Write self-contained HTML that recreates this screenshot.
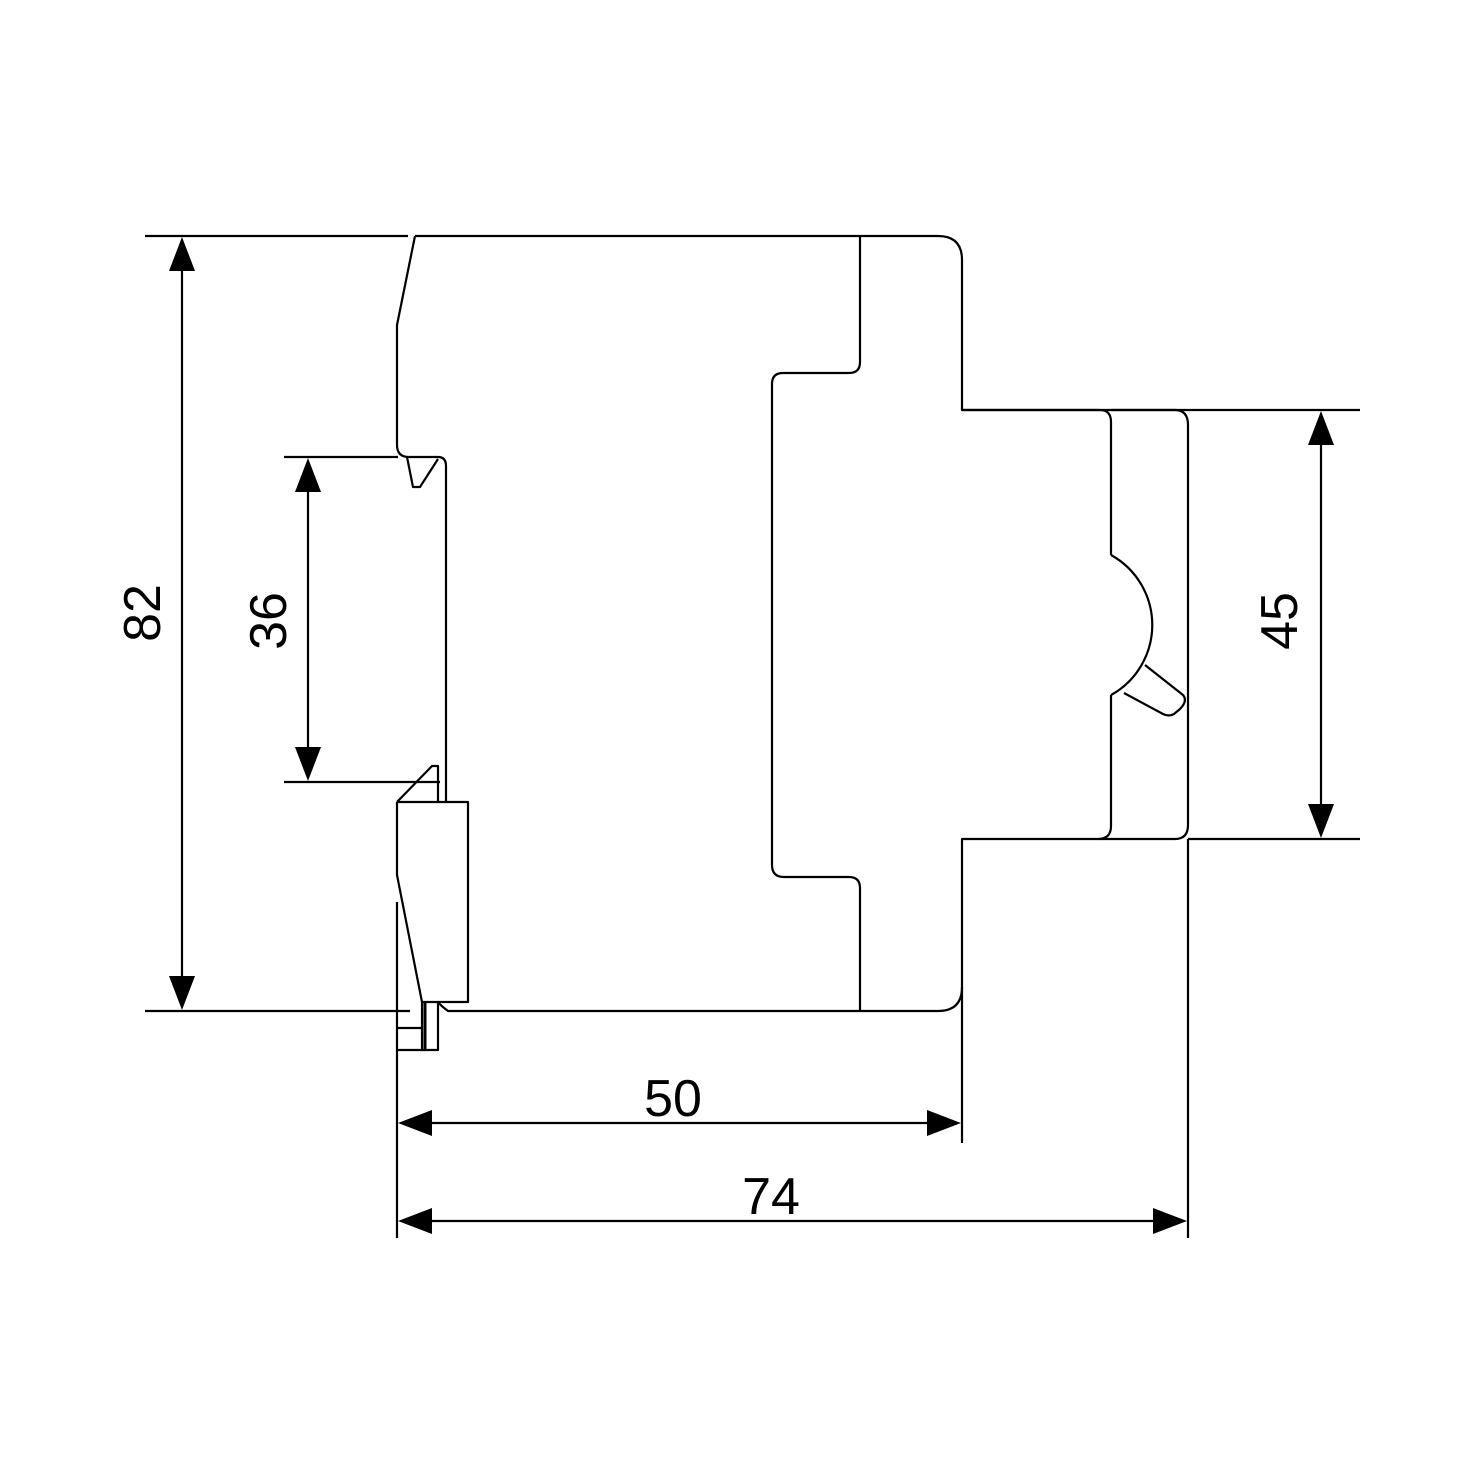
<!DOCTYPE html>
<html><head><style>html,body{margin:0;padding:0;background:#fff}</style></head><body>
<svg width="1476" height="1476" viewBox="0 0 1476 1476" xmlns="http://www.w3.org/2000/svg">
<g fill="none" stroke="#000" stroke-width="2.2" stroke-linejoin="round">
<line x1="145" y1="236" x2="408" y2="236"/>
<line x1="145" y1="1011" x2="410" y2="1011"/>
<line x1="284" y1="457" x2="398" y2="457"/>
<line x1="284" y1="782" x2="440" y2="782"/>
<line x1="962" y1="410" x2="1360" y2="410"/>
<line x1="1188" y1="839" x2="1360" y2="839"/>
<line x1="397" y1="902" x2="397" y2="1238"/>
<line x1="962" y1="987" x2="962" y2="1143"/>
<line x1="1188" y1="839" x2="1188" y2="1238"/>
<path d="M415,236 L938,236 Q962,236 962,260 L962,410 L1100,410 Q1111,410 1111,422 L1111,555"/>
<path d="M1111,555 A80,80 0 0 1 1111,695"/>
<path d="M1111,695 L1111,826 Q1111,839 1098,839 L962,839 L962,987 Q962,1011 938,1011 L468,1011 L448,1011 Q440,1005 438,1002"/>
<path d="M860,236 L860,362 Q860,373 849,373 L783,373 Q772,373 772,384 L772,865 Q772,877 784,877 L849,877 Q860,877 860,888 L860,1011"/>
<path d="M1111,410 L1175,410 Q1188,410 1188,425 L1188,825 Q1188,839 1175,839 L1098,839"/>
<path d="M1145,665 L1183,695 Q1188,701 1180,709 L1174,714 Q1169,717 1163,714 L1124,693"/>
<path d="M415,236 L397,325 L397,445 Q397,457 409,457 L438,457 Q446,457 446,466 L446,802"/>
<path d="M407,457 L413,487 L420,487 L438,459"/>
<path d="M397,802 L432,766 L438,766 L438,802"/>
<path d="M397,802 L468,802 L468,1002 L422,1002"/>
<path d="M397,802 L397,875 L422,1002 L422,1050"/>
<line x1="425" y1="1002" x2="425" y2="1050" stroke-width="3"/>
<path d="M397,1028 L422,1028 M397,1050 L438,1050 L438,1002"/>
<line x1="182" y1="260" x2="182" y2="987"/>
<line x1="308" y1="480" x2="308" y2="758"/>
<line x1="1321" y1="434" x2="1321" y2="815"/>
<line x1="420" y1="1123" x2="940" y2="1123"/>
<line x1="420" y1="1221" x2="1165" y2="1221"/>
</g>
<g fill="#000">
<polygon points="182,237 169,271 195,271"/>
<polygon points="182,1010 169,976 195,976"/>
<polygon points="308,458 295,492 321,492"/>
<polygon points="308,781 295,747 321,747"/>
<polygon points="1321,411 1308,445 1334,445"/>
<polygon points="1321,838 1308,804 1334,804"/>
<polygon points="398,1123 432,1110 432,1136"/>
<polygon points="961,1123 927,1110 927,1136"/>
<polygon points="398,1221 432,1208 432,1234"/>
<polygon points="1187,1221 1153,1208 1153,1234"/>
</g>
<g font-family="Liberation Sans, sans-serif" font-size="52" fill="#000" text-anchor="middle">
<text transform="translate(160,613) rotate(-90)">82</text>
<text transform="translate(286,621) rotate(-90)">36</text>
<text transform="translate(1297,621) rotate(-90)">45</text>
<text x="673" y="1116">50</text>
<text x="771" y="1214">74</text>
</g>
</svg>
</body></html>
